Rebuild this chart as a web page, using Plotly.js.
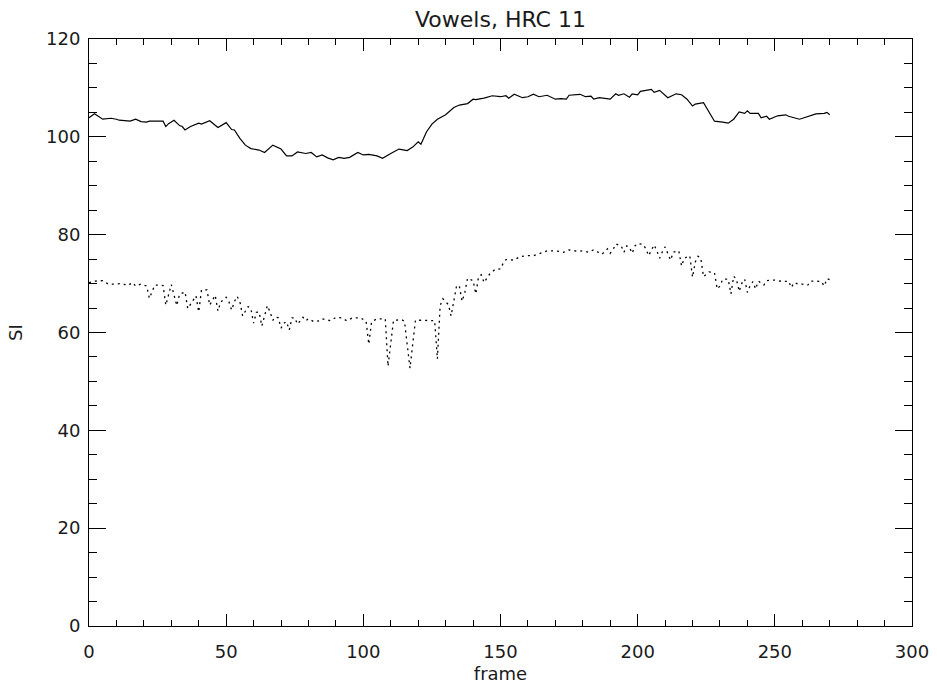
<!DOCTYPE html>
<html>
<head>
<meta charset="utf-8">
<script src="https://cdn.plot.ly/plotly-3.0.1.min.js"></script>
<style>html,body{margin:0;padding:0;background:#fff;}#chart{width:937px;height:689px;}</style>
</head>
<body>
<div id="chart"></div>
<script>
// Solid series
const solidFrame = [0,2,5,8,10,11,15,17,19,21,22,27,28,29,31,33,34,35,37,40,41,44,47,50,52,53,55,57,59,61,62,64,67,70,72,74,76,79,81,83,85,87,89,91,93,95,98,100,102,105,107,110,113,116,118,120,121,123,125,127,130,133,135,138,140,141,144,147,150,152,153,155,158,160,162,164,167,170,172,174,175,179,181,183,184,186,190,192,193,195,197,198,200,201,205,206,208,211,214,216,218,220,221,224,228,231,233,235,237,239,240,241,244,245,247,248,251,254,255,259,261,263,265,268,269,270];
const solidSI = [103.9,104.7,103.6,103.8,103.6,103.4,103.2,103.6,103.1,103.0,103.2,103.2,102.1,102.7,103.4,102.3,102.1,101.4,102.1,102.8,102.6,103.3,101.9,102.9,101.5,101.4,99.7,98.3,97.6,97.5,97.3,96.8,98.3,97.5,96.1,96.1,96.9,96.6,96.8,95.9,96.3,95.7,95.3,95.8,95.6,95.8,96.8,96.3,96.4,96.1,95.6,96.6,97.5,97.2,97.9,99.0,98.5,101.0,102.6,103.6,104.5,106.0,106.5,106.8,107.7,107.6,107.9,108.4,108.2,108.4,107.9,108.7,108.0,108.2,108.7,108.2,108.5,107.7,107.8,107.7,108.5,108.7,108.2,108.3,107.7,108.0,107.7,108.8,108.5,108.8,108.1,108.8,108.6,109.3,109.7,109.1,109.5,108.0,108.8,108.6,107.7,106.3,106.7,107.0,103.2,103.0,102.8,103.6,105.1,104.8,105.3,104.8,104.8,103.9,104.2,103.6,104.3,104.5,104.2,103.6,104.0,104.3,104.7,104.8,105.0,104.5];

// Dotted series
const dottedFrame = [0,2,5,7,9,12,14,16,17,19,21,22,24,27,28,30,32,33,35,36,39,40,41,43,44,45,46,47,48,50,51,52,53,54,55,56,58,59,60,61,62,63,64,65,66,67,68,69,70,71,72,73,74,75,76,78,79,80,82,84,85,88,90,92,94,96,99,101,102,103,105,108,109,111,114,115,117,119,121,123,126,127,128,129,131,132,134,135,136,137,138,140,141,142,143,144,146,148,150,151,152,155,157,160,162,165,167,170,173,175,178,180,182,184,187,189,190,191,192,194,195,196,197,198,199,200,202,203,204,205,206,207,208,209,210,212,213,215,216,217,219,220,221,222,223,224,226,228,229,230,231,233,234,235,236,237,238,239,240,241,242,243,244,246,247,249,250,253,255,256,257,259,260,262,263,265,267,268,269,270];
const dottedSI = [70.2,70.5,70.6,69.9,69.9,70.0,69.6,70.2,69.5,69.9,69.5,67.0,69.7,69.6,65.6,69.8,65.5,67.8,68.3,64.9,67.5,64.2,68.7,68.7,65.6,66.7,67.6,64.4,66.2,67.2,66.3,64.6,66.3,67.4,66.3,63.4,65.3,64.9,61.9,64.1,64.2,61.3,63.3,65.5,64.2,62.5,63.2,63.0,60.9,61.9,62.2,60.5,63.0,63.0,61.7,63.1,62.4,62.8,62.2,62.4,62.8,62.4,63.1,63.0,62.4,63.0,63.0,62.3,57.6,62.2,62.8,62.8,53.1,62.5,62.6,62.3,52.7,62.5,62.5,62.5,62.4,54.6,65.5,66.9,65.7,63.4,69.6,69.5,66.4,68.2,71.1,70.6,67.9,71.4,71.8,70.2,71.9,72.9,73.0,74.2,74.9,74.8,75.5,75.7,75.7,76.3,76.7,76.7,76.4,76.9,76.6,76.7,76.4,76.9,76.0,77.1,76.2,76.9,78.1,77.7,76.4,77.7,77.4,76.2,77.7,78.2,78.0,77.1,75.7,76.8,77.9,76.7,75.2,76.5,77.5,74.8,76.4,76.7,73.6,75.2,75.7,71.3,74.4,75.6,75.2,71.4,72.4,72.2,68.9,69.5,70.9,70.9,67.9,71.5,70.9,68.4,70.1,70.9,68.2,69.6,70.4,68.9,70.5,69.7,70.6,70.7,70.7,70.4,70.5,69.2,70.2,69.8,69.9,69.7,70.5,70.5,70.4,69.5,71.0,70.8];

const xTicks = [0,50,100,150,200,250,300];
const yTicks = [0,20,40,60,80,100,120];

const FONT = 'DejaVu Sans, sans-serif';
const TXT = '#1a1a1a';
const data = [
  {x: solidFrame, y: solidSI, type: 'scatter', mode: 'lines',
   line: {color: '#000', width: 1.2}, hoverinfo: 'skip'},
  {x: dottedFrame, y: dottedSI, type: 'scatter', mode: 'lines',
   line: {color: '#000', width: 1.3, dash: '2px,4px'}, hoverinfo: 'skip'}
];

const axisCommon = {
  showgrid: false, zeroline: false, showline: true, linecolor: '#000', linewidth: 1,
  mirror: 'ticks', ticks: 'inside', tickcolor: '#000', tickwidth: 1,
  tickfont: {family: FONT, size: 18, color: TXT}
};

const layout = {
  width: 937, height: 689,
  margin: {l: 89, r: 25, t: 39, b: 63},
  paper_bgcolor: '#fff', plot_bgcolor: '#fff',
  showlegend: false,
  title: {text: 'Vowels, HRC 11', font: {family: FONT, size: 22, color: TXT},
          x: 0.5, xref: 'paper', xanchor: 'center', y: 1 - 19/689, yref: 'container', yanchor: 'middle'},
  xaxis: Object.assign({}, axisCommon, {
    range: [0, 300], tickvals: xTicks, ticktext: xTicks.map(String), ticklen: 12,
    ticklabelstandoff: 9,
    minor: {dtick: 10, ticks: 'inside', ticklen: 6, tickcolor: '#000', tickwidth: 1},
    title: {text: 'frame', font: {family: FONT, size: 18, color: TXT}, standoff: 6}
  }),
  yaxis: Object.assign({}, axisCommon, {
    range: [0, 120], tickvals: yTicks, ticktext: yTicks.map(String), ticklen: 17,
    ticklabelstandoff: 4,
    minor: {dtick: 5, ticks: 'inside', ticklen: 8, tickcolor: '#000', tickwidth: 1},
    title: {text: 'SI', font: {family: FONT, size: 18, color: TXT}, standoff: 18}
  })
};

Plotly.newPlot('chart', data, layout, {staticPlot: true, displayModeBar: false});
</script>
</body>
</html>
